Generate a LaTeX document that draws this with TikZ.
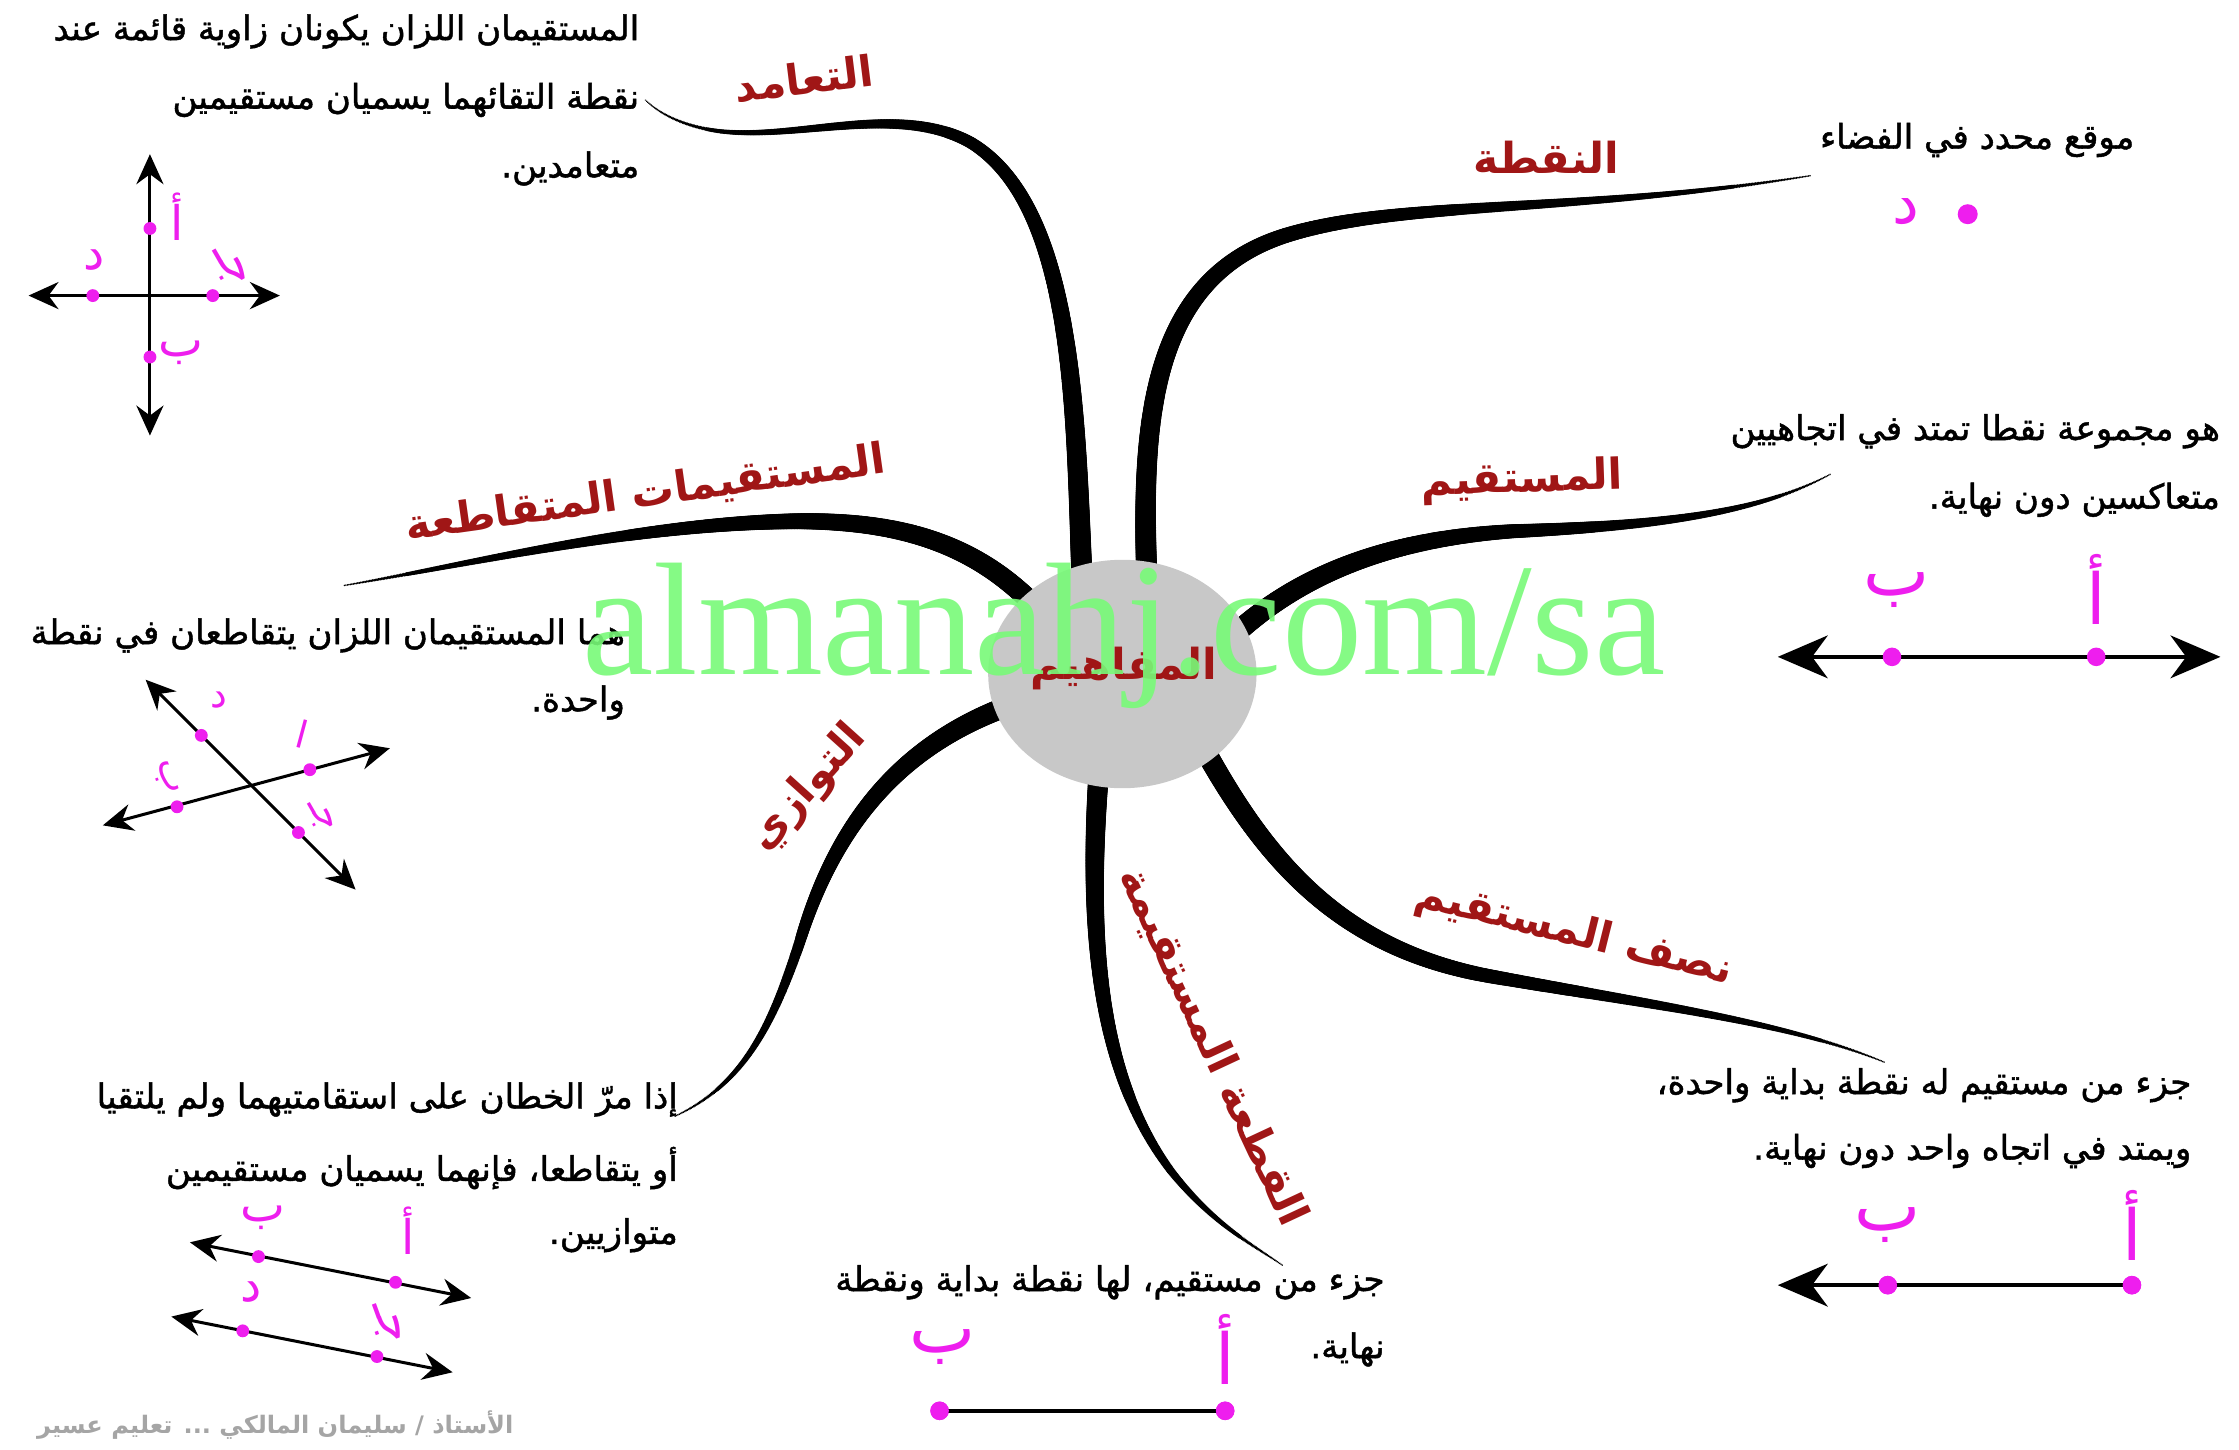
\documentclass[tikz,border=0pt]{standalone}
\usepackage{fontspec}
\setmainfont{Liberation Serif}
\newfontfamily\arabicfont[Script=Arabic]{DejaVu Sans}
\newfontfamily\arabicdesc[Script=Arabic,FakeBold=1.3]{DejaVu Sans}
\usetikzlibrary{arrows.meta,decorations.markings,shapes.geometric}
\TeXXeTstate=1
\newcommand\rtl[1]{\beginR #1\endR}
\definecolor{lblred}{RGB}{160,22,22}
\definecolor{mag}{RGB}{238,30,238}
\definecolor{wmgreen}{RGB}{120,250,120}
\tikzset{
  branch/.style={decorate, decoration={markings,
    mark=between positions 0 and 1 step 0.6pt with {
      \pgfmathsetmacro\bs{\pgfkeysvalueof{/pgf/decoration/mark info/distance from start}/\pgfdecoratedpathlength}
      \pgfmathsetmacro\br{0.3+4.0*(1-max(\bs,0)^1.5)}
      \fill (0,0) circle (\br pt);
    }}},
  lbl/.style={font=\arabicfont\bfseries\fontsize{17}{20}\selectfont, text=lblred, inner sep=0},
  desc/.style={anchor=east, inner sep=0, font=\arabicdesc\fontsize{13.6}{16}\selectfont},
  letter/.style={text=mag, inner sep=0, font=\arabicfont\fontsize{19}{22}\selectfont},
  bigletter/.style={text=mag, inner sep=0, font=\arabicfont\fontsize{28}{30}\selectfont},
  dot/.style={circle, fill=mag, inner sep=0, minimum size=0.18cm},
  bigdot/.style={circle, fill=mag, inner sep=0, minimum size=0.26cm},
  smallarr/.style={line width=1.2pt, {Stealth[length=0.42cm,width=0.38cm,inset=0.14cm]}-{Stealth[length=0.42cm,width=0.38cm,inset=0.14cm]}},
  bigarr/.style={line width=1.4pt, {Stealth[length=0.7cm,width=0.6cm,inset=0.22cm]}-{Stealth[length=0.7cm,width=0.6cm,inset=0.22cm]}},
  bigray/.style={line width=1.4pt, {Stealth[length=0.7cm,width=0.6cm,inset=0.22cm]}-},
}
\begin{document}
\begin{tikzpicture}[x=0.02cm,y=-0.02cm]
\useasboundingbox (0,0) rectangle (1568,1015);
\fill[white] (0,0) rectangle (1568,1015);

% branch ends
\coordinate (e1) at (452,70);
\coordinate (e2) at (1268,123);
\coordinate (e3) at (1282,332);
\coordinate (e4) at (1320,744);
\coordinate (e5) at (898,886);
\coordinate (e6) at (472,782);
\coordinate (e7) at (241,410);

% branches
\path[branch] (760,450) .. controls (752,330) and (762,150) .. (680,100) .. controls (630,72) and (560,98) .. (505,92) .. controls (480,89) and (462,80) .. (e1);
\path[branch] (805,450) .. controls (800,330) and (790,200) .. (900,165) .. controls (980,140) and (1100,150) .. (e2);
\path[branch] (840,470) .. controls (890,410) and (960,378) .. (1060,372) .. controls (1160,368) and (1230,360) .. (e3);
\path[branch] (820,480) .. controls (870,580) and (920,660) .. (1040,683) .. controls (1150,703) and (1250,715) .. (e4);
\path[branch] (775,480) .. controls (760,620) and (760,740) .. (820,820) .. controls (850,858) and (878,872) .. (e5);
\path[branch] (760,480) .. controls (650,500) and (590,560) .. (560,660) .. controls (540,720) and (520,760) .. (e6);
\path[branch] (760,470) .. controls (710,390) and (650,365) .. (560,365) .. controls (450,366) and (330,395) .. (e7);

% center
\node[ellipse, fill={rgb,255:red,200;green,200;blue,200}, minimum width=3.76cm, minimum height=3.2cm, inner sep=0] (c) at (786,472) {};
\node[lbl, font=\arabicfont\bfseries\fontsize{17}{20}\selectfont] (ctext) at (787,468) {\rtl{المفاهيم}};

% branch labels
\node[lbl, rotate=7] (l1) at (563,55) {\rtl{التعامد}};
\node[lbl] (l2) at (1083,110) {\rtl{النقطة}};
\node[lbl, rotate=2] (l3) at (1066,337) {\rtl{المستقيم}};
\node[lbl, rotate=-14] (l4) at (1102,654) {\rtl{نصف المستقيم}};
\node[lbl, rotate=-65] (l5) at (849,733) {\rtl{القطعة المستقيمة}};
\node[lbl, rotate=48] (l6) at (566,552) {\rtl{التوازي}};
\node[lbl, rotate=8] (l7) at (452,346) {\rtl{المستقيمات المتقاطعة}};

% descriptions
\node[desc] (t1a) at (448,22) {\rtl{المستقيمان اللزان يكونان زاوية قائمة عند}};
\node[desc] (t1b) at (448,70) {\rtl{نقطة التقائهما يسميان مستقيمين}};
\node[desc] (t1c) at (448,118) {\rtl{متعامدين.}};
\node[desc] (t2a) at (1495,98) {\rtl{موقع محدد في الفضاء}};
\node[desc] (t3a) at (1555,302) {\rtl{هو مجموعة نقطا تمتد في اتجاهيين}};
\node[desc] (t3b) at (1555,350) {\rtl{متعاكسين دون نهاية.}};
\node[desc] (t4a) at (1535,760) {\rtl{جزء من مستقيم له نقطة بداية واحدة،}};
\node[desc] (t4b) at (1535,806) {\rtl{ويمتد في اتجاه واحد دون نهاية.}};
\node[desc] (t5a) at (970,898) {\rtl{جزء من مستقيم، لها نقطة بداية ونقطة}};
\node[desc] (t5b) at (970,945) {\rtl{نهاية.}};
\node[desc] (t6a) at (475,770) {\rtl{إذا مرّ الخطان على استقامتيهما ولم يلتقيا}};
\node[desc] (t6b) at (475,818) {\rtl{أو يتقاطعا، فإنهما يسميان مستقيمين}};
\node[desc] (t6c) at (475,865) {\rtl{متوازيين.}};
\node[desc] (t7a) at (438,445) {\rtl{هما المستقيمان اللزان يتقاطعان في نقطة}};
\node[desc] (t7b) at (438,492) {\rtl{واحدة.}};

% footer
\node[anchor=east, inner sep=0, text={rgb,255:red,165;green,165;blue,165}, font=\arabicfont\bfseries\fontsize{9.6}{11}\selectfont] (foot) at (360,998) {\rtl{الأستاذ / سليمان المالكي ... تعليم عسير}};

% perpendicular diagram
\coordinate (ph1) at (20,207); \coordinate (ph2) at (196,207);
\coordinate (pv1) at (105,108); \coordinate (pv2) at (105,305);
\draw[smallarr] (ph1) -- (ph2);
\draw[smallarr] (pv1) -- (pv2);
\node[dot] (pa) at (105,160) {};
\node[dot] (pb) at (105,250) {};
\node[dot] (pd) at (65,207) {};
\node[dot] (pj) at (149,207) {};
\node[letter] (pal) at (124,152) {أ};
\node[letter] (pbl) at (127,247) {ب};
\node[letter] (pdl) at (66,182) {د};
\node[letter, rotate=-60] (pjl) at (160,187) {جـ};

% point diagram
\node[bigdot, minimum size=0.28cm] (np) at (1378,150) {};
\node[bigletter, font=\arabicfont\fontsize{24}{26}\selectfont] (npl) at (1335,148) {د};

% line diagram
\coordinate (ln1) at (1245,460); \coordinate (ln2) at (1555,460);
\draw[bigarr] (ln1) -- (ln2);
\node[bigdot] (lnb) at (1325,460) {};
\node[bigdot] (lna) at (1468,460) {};
\node[bigletter] (lnbl) at (1328,413) {ب};
\node[bigletter] (lnal) at (1468,413) {أ};

% ray diagram
\coordinate (ry1) at (1245,900);
\node[bigdot] (rya) at (1493,900) {};
\node[bigdot] (ryb) at (1322,900) {};
\draw[bigray] (ry1) -- (rya.center);
\node[bigdot] at (ryb) {};
\node[bigdot] at (rya) {};
\node[bigletter] (rybl) at (1322,858) {ب};
\node[bigletter] (ryal) at (1493,858) {أ};

% segment diagram
\node[bigdot] (sgb) at (658,988) {};
\node[bigdot] (sga) at (858,988) {};
\draw[line width=1.4pt] (sgb.center) -- (sga.center);
\node[bigdot] at (sgb) {};
\node[bigdot] at (sga) {};
\node[bigletter] (sgbl) at (660,943) {ب};
\node[bigletter] (sgal) at (858,945) {أ};

% parallel diagram
\coordinate (pl1) at (133,870); \coordinate (pl2) at (330,909);
\coordinate (pm1) at (120,922); \coordinate (pm2) at (317,961);
\draw[smallarr] (pl1) -- (pl2);
\draw[smallarr] (pm1) -- (pm2);
\node[dot] (plb) at (181,880) {};
\node[dot] (pla) at (277,898) {};
\node[dot] (pmd) at (170,932) {};
\node[dot] (pmj) at (264,950) {};
\node[letter] (plbl) at (184,853) {ب};
\node[letter] (plal) at (286,862) {أ};
\node[letter] (pmdl) at (176,905) {د};
\node[letter, rotate=-70] (pmjl) at (270,927) {جـ};

% intersecting diagram
\coordinate (ia1) at (72,578); \coordinate (ia2) at (273,524);
\coordinate (ib1) at (102,476); \coordinate (ib2) at (249,623);
\draw[smallarr] (ia1) -- (ia2);
\draw[smallarr] (ib1) -- (ib2);
\node[dot] (id) at (141,515) {};
\node[dot] (ia) at (217,539) {};
\node[dot] (ib) at (124,565) {};
\node[dot] (ij) at (209,583) {};
\node[letter, font=\arabicfont\fontsize{15}{17}\selectfont] (idl) at (153,490) {د};
\node[letter, font=\arabicfont\fontsize{15}{17}\selectfont, rotate=-15] (ial) at (212,514) {ا};
\node[letter, font=\arabicfont\fontsize{15}{17}\selectfont, rotate=-70] (ibl) at (116,545) {ب};
\node[letter, font=\arabicfont\fontsize{15}{17}\selectfont, rotate=-60] (ijl) at (224,572) {جـ};

% watermark
\node[anchor=base, inner sep=0, text=wmgreen, opacity=0.9, font=\fontsize{64}{70}\selectfont] (wm) at (787,472) {almanahj.com/sa};
\end{tikzpicture}
\end{document}
